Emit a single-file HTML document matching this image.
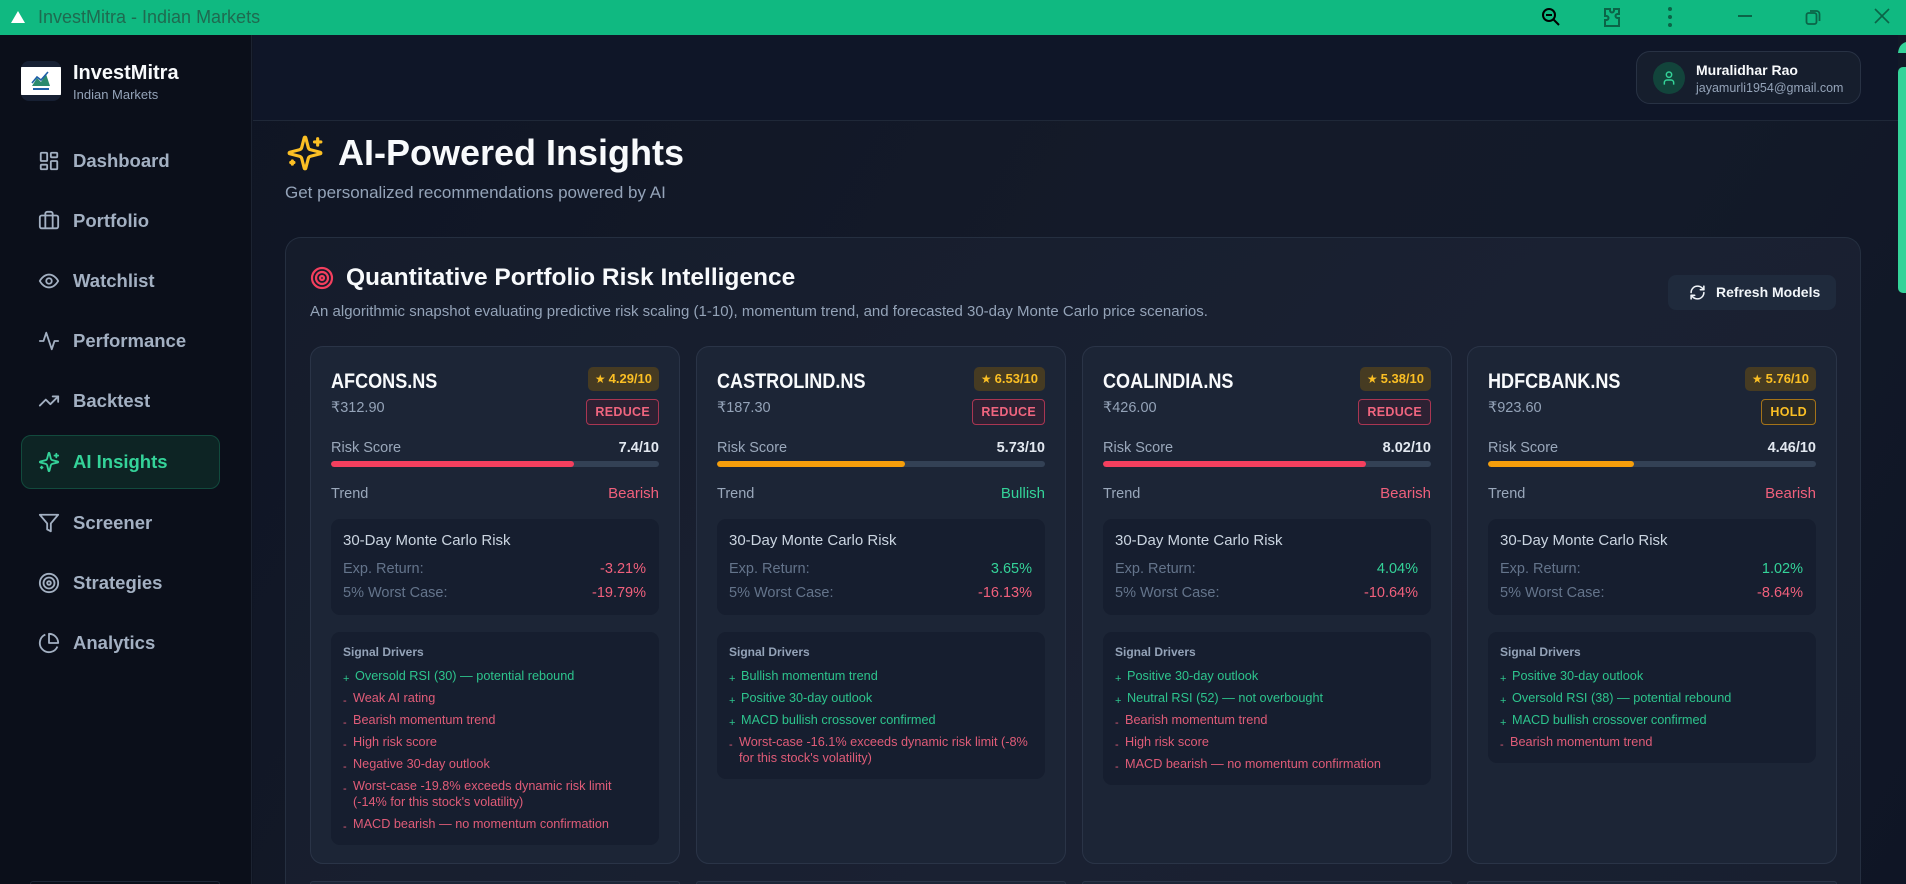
<!DOCTYPE html>
<html><head><meta charset="utf-8">
<style>
*{box-sizing:border-box;margin:0;padding:0}
html,body{width:1906px;height:884px;overflow:hidden;background:#0f1523;font-family:"Liberation Sans",Arial,sans-serif}
#root{position:relative;width:1906px;height:884px;overflow:hidden}
.a{position:absolute}
#tb{left:0;top:0;width:1906px;height:35px;background:#10b981}
#tbt{left:38px;top:6px;font-size:18px;line-height:22px;color:#1f6a50;white-space:nowrap}
#side{left:0;top:35px;width:252px;height:849px;background:#0b0f1a;border-right:1px solid #1c2331}
#main{left:253px;top:35px;width:1653px;height:849px;background:linear-gradient(120deg,#0f1524 0%,#141a29 45%,#131a29 70%,#0f1525 100%)}
#hdr{left:253px;top:35px;width:1645px;height:86px;background:#0f1628;border-bottom:1px solid #1f2838}
.nav{position:absolute;left:21px;width:199px;height:54px}
.nav svg{position:absolute;left:17px;top:16px}
.nav span{position:absolute;left:52px;top:17px;font-size:18.5px;line-height:20px;font-weight:bold;color:#a3b0c2;white-space:nowrap}
.nav.on{background:#0d2424;border:1px solid #124a3d;border-radius:10px}
.nav.on span{color:#34d399;left:51px;top:16px}
.nav.on svg{left:16px;top:15px}
#panel{left:285px;top:237px;width:1576px;height:647px;background:linear-gradient(135deg,#151c2b,#1a2132 60%,#181f2f);border:1px solid #252f40;border-bottom:none;border-radius:16px 16px 0 0}
.card{position:absolute;top:346px;width:370px;height:518px;background:#1c2536;border:1px solid #2a3447;border-radius:13px}
.card2{position:absolute;top:881px;width:370px;height:3px;background:#1c2536;border:1px solid #2a3447;border-bottom:none;border-radius:13px 13px 0 0}
.tk{position:absolute;left:20px;top:22px;font-size:21px;font-weight:bold;color:#f8fafc;line-height:26px;transform:scaleX(.86);transform-origin:0 50%;white-space:nowrap}
.star{position:absolute;right:20px;top:20px;height:24px;line-height:24px;padding:0 7px;border-radius:5px;background:#463b22;color:#fbbf24;font-size:13px;font-weight:bold;white-space:nowrap}
.star b{font-size:12px;font-family:"DejaVu Sans",sans-serif;margin-right:3px}
.bdg{position:absolute;right:20px;top:52px;height:26px;line-height:24px;padding:0 8px;border-radius:4px;font-size:12.5px;font-weight:bold;letter-spacing:.3px;border:1px solid}
.bdg.red{color:#f0657f;border-color:#a93652;background:#2d2133}
.bdg.hold{color:#fbbf24;border-color:#a47319;background:#2b2a25}
.price{position:absolute;left:20px;top:51px;font-size:14.5px;line-height:20px;color:#94a3b8;white-space:nowrap}
.row{position:absolute;left:20px;right:20px;height:18px;line-height:18px;display:flex;justify-content:space-between;font-size:14.5px}
.lbl{color:#9aa8bb}
.val{color:#e2e8f0;font-weight:bold}
.bar{position:absolute;left:20px;right:20px;top:114px;height:6px;border-radius:3px;background:#334155;overflow:hidden}
.bar i{display:block;height:100%;border-radius:3px}
.tr{font-size:15px}
.r{color:#f0607c}.g{color:#34d399}
.mc{position:absolute;left:20px;right:20px;top:172px;height:96px;background:#161e2f;border-radius:9px}
.mct{position:absolute;left:12px;top:13px;font-size:15px;line-height:18px;color:#cbd5e1;white-space:nowrap}
.mcr{position:absolute;left:12px;right:13px;display:flex;justify-content:space-between;font-size:14.5px;line-height:18px;color:#64748b}
.sig{position:absolute;left:20px;right:20px;top:285px;background:#161e2f;border-radius:9px;padding:12px 12px 13px}
.sgt{font-size:12px;font-weight:bold;color:#94a3b8;line-height:16px}
.it{display:flex;font-size:12.7px;line-height:16px;margin-top:6px;white-space:nowrap}
.sgt+.it{margin-top:8px}
.mk{flex:none;width:12px;font-size:11px;position:relative;top:3px}
.it.m .mk{width:10px}
.it.p{color:#2dc48d}.it.m{color:#e05c78}
</style></head><body><div id="root">

<!-- title bar -->
<div id="tb" class="a"></div>
<svg class="a" style="left:10px;top:10px" width="16" height="14" viewBox="0 0 16 14"><polygon points="8,1 15,13 1,13" fill="#fff"/></svg>
<div id="tbt" class="a">InvestMitra - Indian Markets</div>
<svg class="a" style="left:1540px;top:6px" width="22" height="22" viewBox="0 0 22 22" fill="none" stroke="#000" stroke-width="2"><circle cx="9" cy="9" r="6"/><line x1="6" y1="9" x2="12" y2="9"/><line x1="13.5" y1="13.5" x2="19" y2="19"/></svg>
<svg class="a" style="left:1600px;top:5px" width="24" height="24" viewBox="0 0 24 24" fill="none" stroke="#0b6447" stroke-width="2"><path d="M5 4h5v1.5a2 2 0 0 0 4 0V4h5v5h-1.5a2 2 0 0 0 0 4H19v8H5v-6h1.5a2 2 0 0 0 0-4H5z"/></svg>
<svg class="a" style="left:1665px;top:6px" width="10" height="22" viewBox="0 0 10 22" fill="#0b6447"><circle cx="5" cy="3" r="2"/><circle cx="5" cy="11" r="2"/><circle cx="5" cy="19" r="2"/></svg>
<div class="a" style="left:1738px;top:15px;width:14px;height:2px;background:#0b6447"></div>
<svg class="a" style="left:1805px;top:8px" width="16" height="18" viewBox="0 0 16 18" fill="none" stroke="#0b6447" stroke-width="1.8"><rect x="1.5" y="5" width="10" height="11" rx="2"/><path d="M5 3h6.5a3 3 0 0 1 3 3v7"/></svg>
<svg class="a" style="left:1874px;top:8px" width="16" height="16" viewBox="0 0 16 16" stroke="#0b6447" stroke-width="1.6"><line x1="1" y1="1" x2="15" y2="15"/><line x1="15" y1="1" x2="1" y2="15"/></svg>

<!-- sidebar -->
<div id="side" class="a"></div>
<div class="a" style="left:21px;top:61px;width:40px;height:40px;border-radius:8px;background:#172033;overflow:hidden">
 <div class="a" style="left:0;top:6px;width:40px;height:28px;background:#fff"></div>
 <svg class="a" style="left:8px;top:9px" width="24" height="22" viewBox="0 0 24 22"><polygon points="3,16 8,8 12,12 17,4 21,16" fill="#2b8a6e"/><polyline points="3,13 8,7 12,10 19,2" fill="none" stroke="#1e5fa8" stroke-width="1.6"/><rect x="4" y="18" width="16" height="2" fill="#1e5fa8"/></svg>
</div>
<div class="a" style="left:73px;top:62px;font-size:20px;line-height:22px;font-weight:bold;color:#f8fafc">InvestMitra</div>
<div class="a" style="left:73px;top:87px;font-size:13px;line-height:16px;color:#94a3b8">Indian Markets</div>

<div class="nav" style="top:134px"><svg width="22" height="22" viewBox="0 0 24 24" fill="none" stroke="#a3b0c2" stroke-width="2" stroke-linejoin="round"><rect x="3" y="3" width="7" height="9" rx="1"/><rect x="14" y="3" width="7" height="5" rx="1"/><rect x="14" y="12" width="7" height="9" rx="1"/><rect x="3" y="16" width="7" height="5" rx="1"/></svg><span>Dashboard</span></div>
<div class="nav" style="top:194px"><svg width="22" height="22" viewBox="0 0 24 24" fill="none" stroke="#a3b0c2" stroke-width="2" stroke-linejoin="round"><path d="M16 20V4a2 2 0 0 0-2-2h-4a2 2 0 0 0-2 2v16"/><rect x="2" y="6" width="20" height="14" rx="2"/></svg><span>Portfolio</span></div>
<div class="nav" style="top:254px"><svg width="22" height="22" viewBox="0 0 24 24" fill="none" stroke="#a3b0c2" stroke-width="2"><path d="M2 12s3.6-7 10-7 10 7 10 7-3.6 7-10 7S2 12 2 12z"/><circle cx="12" cy="12" r="3"/></svg><span>Watchlist</span></div>
<div class="nav" style="top:314px"><svg width="22" height="22" viewBox="0 0 24 24" fill="none" stroke="#a3b0c2" stroke-width="2" stroke-linejoin="round" stroke-linecap="round"><polyline points="22 12 18 12 15 21 9 3 6 12 2 12"/></svg><span>Performance</span></div>
<div class="nav" style="top:374px"><svg width="22" height="22" viewBox="0 0 24 24" fill="none" stroke="#a3b0c2" stroke-width="2" stroke-linejoin="round" stroke-linecap="round"><polyline points="22 7 13.5 15.5 8.5 10.5 2 17"/><polyline points="16 7 22 7 22 13"/></svg><span>Backtest</span></div>
<div class="nav on" style="top:435px"><svg width="22" height="22" viewBox="0 0 24 24" fill="none" stroke="#34d399" stroke-width="2" stroke-linejoin="round" stroke-linecap="round"><path d="M9.937 15.5A2 2 0 0 0 8.5 14.063l-6.135-1.582a.5.5 0 0 1 0-.962L8.5 9.936A2 2 0 0 0 9.937 8.5l1.582-6.135a.5.5 0 0 1 .963 0L14.063 8.5A2 2 0 0 0 15.5 9.937l6.135 1.581a.5.5 0 0 1 0 .964L15.5 14.063a2 2 0 0 0-1.437 1.437l-1.582 6.135a.5.5 0 0 1-.963 0z"/><path d="M20 3v4M22 5h-4M4 17v2M5 18H3"/></svg><span>AI Insights</span></div>
<div class="nav" style="top:496px"><svg width="22" height="22" viewBox="0 0 24 24" fill="none" stroke="#a3b0c2" stroke-width="2" stroke-linejoin="round"><polygon points="22 3 2 3 10 12.46 10 19 14 21 14 12.46 22 3"/></svg><span>Screener</span></div>
<div class="nav" style="top:556px"><svg width="22" height="22" viewBox="0 0 24 24" fill="none" stroke="#a3b0c2" stroke-width="2"><circle cx="12" cy="12" r="10"/><circle cx="12" cy="12" r="6"/><circle cx="12" cy="12" r="2"/></svg><span>Strategies</span></div>
<div class="nav" style="top:616px"><svg width="22" height="22" viewBox="0 0 24 24" fill="none" stroke="#a3b0c2" stroke-width="2" stroke-linejoin="round"><path d="M21.21 15.89A10 10 0 1 1 8 2.83"/><path d="M22 12A10 10 0 0 0 12 2v10z"/></svg><span>Analytics</span></div>
<div class="a" style="left:30px;top:881px;width:190px;height:3px;border:1px solid #1e2636;border-bottom:none;border-radius:8px 8px 0 0"></div>

<!-- main -->
<div id="main" class="a"></div>
<div id="hdr" class="a"></div>
<div class="a" style="left:1636px;top:51px;width:225px;height:53px;border-radius:14px;background:#161e2d;border:1px solid #283244"></div>
<div class="a" style="left:1653px;top:62px;width:32px;height:32px;border-radius:16px;background:#12443b"></div>
<svg class="a" style="left:1661px;top:70px" width="16" height="16" viewBox="0 0 24 24" fill="none" stroke="#34d399" stroke-width="2.2"><circle cx="12" cy="7" r="4"/><path d="M19 22v-3a4 4 0 0 0-4-4H9a4 4 0 0 0-4 4v3"/></svg>
<div class="a" style="left:1696px;top:61px;font-size:14px;line-height:18px;font-weight:bold;color:#f8fafc;white-space:nowrap">Muralidhar Rao</div>
<div class="a" style="left:1696px;top:80px;font-size:12.5px;line-height:16px;color:#94a3b8;white-space:nowrap">jayamurli1954@gmail.com</div>

<!-- scrollbar -->
<svg class="a" style="left:1897px;top:41px" width="9" height="12" viewBox="0 0 9 12"><path d="M1 12 Q2 3 9 1 V12z" fill="#34d399"/></svg>
<div class="a" style="left:1898px;top:67px;width:8px;height:226px;border-radius:5px 0 0 5px;background:#34d399"></div>

<svg class="a" style="left:286px;top:134px" width="38" height="38" viewBox="0 0 24 24" fill="none" stroke="#fbbf24" stroke-width="2" stroke-linejoin="round" stroke-linecap="round"><path d="M9.937 15.5A2 2 0 0 0 8.5 14.063l-6.135-1.582a.5.5 0 0 1 0-.962L8.5 9.936A2 2 0 0 0 9.937 8.5l1.582-6.135a.5.5 0 0 1 .963 0L14.063 8.5A2 2 0 0 0 15.5 9.937l6.135 1.581a.5.5 0 0 1 0 .964L15.5 14.063a2 2 0 0 0-1.437 1.437l-1.582 6.135a.5.5 0 0 1-.963 0z"/><path d="M20 3v4M22 5h-4M4 17v2M5 18H3"/></svg>
<div class="a" style="left:338px;top:132px;font-size:36px;line-height:42px;font-weight:bold;color:#f8fafc;white-space:nowrap">AI-Powered Insights</div>
<div class="a" style="left:285px;top:183px;font-size:17px;line-height:20px;color:#94a3b8;white-space:nowrap">Get personalized recommendations powered by AI</div>

<div id="panel" class="a"></div>
<svg class="a" style="left:310px;top:266px" width="24" height="24" viewBox="0 0 24 24" fill="none" stroke="#f43f5e" stroke-width="2.2"><circle cx="12" cy="12" r="10"/><circle cx="12" cy="12" r="6"/><circle cx="12" cy="12" r="2"/></svg>
<div class="a" style="left:346px;top:264px;font-size:24.5px;line-height:28px;font-weight:bold;color:#f8fafc;white-space:nowrap">Quantitative Portfolio Risk Intelligence</div>
<div class="a" style="left:310px;top:303px;font-size:15px;line-height:18px;color:#94a3b8;white-space:nowrap">An algorithmic snapshot evaluating predictive risk scaling (1-10), momentum trend, and forecasted 30-day Monte Carlo price scenarios.</div>
<div class="a" style="left:1668px;top:275px;width:168px;height:35px;border-radius:8px;background:#1f2a3c"></div>
<svg class="a" style="left:1689px;top:284px" width="17" height="17" viewBox="0 0 24 24" fill="none" stroke="#f1f5f9" stroke-width="2.2" stroke-linecap="round" stroke-linejoin="round"><path d="M3 12a9 9 0 0 1 9-9 9.75 9.75 0 0 1 6.74 2.74L21 8"/><path d="M21 3v5h-5"/><path d="M21 12a9 9 0 0 1-9 9 9.75 9.75 0 0 1-6.74-2.74L3 16"/><path d="M8 16H3v5"/></svg>
<div class="a" style="left:1716px;top:283px;font-size:14px;line-height:18px;font-weight:bold;color:#f1f5f9;white-space:nowrap">Refresh Models</div>

<!-- card 1 -->
<div class="card" style="left:310px">
 <div class="tk">AFCONS.NS</div>
 <div class="star"><b>★</b>4.29/10</div>
 <div class="bdg red">REDUCE</div>
 <div class="price">₹312.90</div>
 <div class="row" style="top:92px"><span class="lbl">Risk Score</span><span class="val">7.4/10</span></div>
 <div class="bar"><i style="width:74%;background:#f43f5e"></i></div>
 <div class="row" style="top:138px"><span class="lbl">Trend</span><span class="tr r">Bearish</span></div>
 <div class="mc"><div class="mct">30-Day Monte Carlo Risk</div>
  <div class="mcr" style="top:41px"><span>Exp. Return:</span><span class="r">-3.21%</span></div>
  <div class="mcr" style="top:65px"><span>5% Worst Case:</span><span class="r">-19.79%</span></div></div>
 <div class="sig"><div class="sgt">Signal Drivers</div>
  <div class="it p"><span class="mk">+</span><span>Oversold RSI (30) — potential rebound</span></div>
  <div class="it m"><span class="mk">-</span><span>Weak AI rating</span></div>
  <div class="it m"><span class="mk">-</span><span>Bearish momentum trend</span></div>
  <div class="it m"><span class="mk">-</span><span>High risk score</span></div>
  <div class="it m"><span class="mk">-</span><span>Negative 30-day outlook</span></div>
  <div class="it m"><span class="mk">-</span><span>Worst-case -19.8% exceeds dynamic risk limit<br>(-14% for this stock's volatility)</span></div>
  <div class="it m"><span class="mk">-</span><span>MACD bearish — no momentum confirmation</span></div>
 </div>
</div>

<!-- card 2 -->
<div class="card" style="left:696px">
 <div class="tk">CASTROLIND.NS</div>
 <div class="star"><b>★</b>6.53/10</div>
 <div class="bdg red">REDUCE</div>
 <div class="price">₹187.30</div>
 <div class="row" style="top:92px"><span class="lbl">Risk Score</span><span class="val">5.73/10</span></div>
 <div class="bar"><i style="width:57.3%;background:#f59e0b"></i></div>
 <div class="row" style="top:138px"><span class="lbl">Trend</span><span class="tr g">Bullish</span></div>
 <div class="mc"><div class="mct">30-Day Monte Carlo Risk</div>
  <div class="mcr" style="top:41px"><span>Exp. Return:</span><span class="g">3.65%</span></div>
  <div class="mcr" style="top:65px"><span>5% Worst Case:</span><span class="r">-16.13%</span></div></div>
 <div class="sig"><div class="sgt">Signal Drivers</div>
  <div class="it p"><span class="mk">+</span><span>Bullish momentum trend</span></div>
  <div class="it p"><span class="mk">+</span><span>Positive 30-day outlook</span></div>
  <div class="it p"><span class="mk">+</span><span>MACD bullish crossover confirmed</span></div>
  <div class="it m"><span class="mk">-</span><span>Worst-case -16.1% exceeds dynamic risk limit (-8%<br>for this stock's volatility)</span></div>
 </div>
</div>

<!-- card 3 -->
<div class="card" style="left:1082px">
 <div class="tk">COALINDIA.NS</div>
 <div class="star"><b>★</b>5.38/10</div>
 <div class="bdg red">REDUCE</div>
 <div class="price">₹426.00</div>
 <div class="row" style="top:92px"><span class="lbl">Risk Score</span><span class="val">8.02/10</span></div>
 <div class="bar"><i style="width:80.2%;background:#f43f5e"></i></div>
 <div class="row" style="top:138px"><span class="lbl">Trend</span><span class="tr r">Bearish</span></div>
 <div class="mc"><div class="mct">30-Day Monte Carlo Risk</div>
  <div class="mcr" style="top:41px"><span>Exp. Return:</span><span class="g">4.04%</span></div>
  <div class="mcr" style="top:65px"><span>5% Worst Case:</span><span class="r">-10.64%</span></div></div>
 <div class="sig"><div class="sgt">Signal Drivers</div>
  <div class="it p"><span class="mk">+</span><span>Positive 30-day outlook</span></div>
  <div class="it p"><span class="mk">+</span><span>Neutral RSI (52) — not overbought</span></div>
  <div class="it m"><span class="mk">-</span><span>Bearish momentum trend</span></div>
  <div class="it m"><span class="mk">-</span><span>High risk score</span></div>
  <div class="it m"><span class="mk">-</span><span>MACD bearish — no momentum confirmation</span></div>
 </div>
</div>

<!-- card 4 -->
<div class="card" style="left:1467px">
 <div class="tk">HDFCBANK.NS</div>
 <div class="star"><b>★</b>5.76/10</div>
 <div class="bdg hold">HOLD</div>
 <div class="price">₹923.60</div>
 <div class="row" style="top:92px"><span class="lbl">Risk Score</span><span class="val">4.46/10</span></div>
 <div class="bar"><i style="width:44.6%;background:#f59e0b"></i></div>
 <div class="row" style="top:138px"><span class="lbl">Trend</span><span class="tr r">Bearish</span></div>
 <div class="mc"><div class="mct">30-Day Monte Carlo Risk</div>
  <div class="mcr" style="top:41px"><span>Exp. Return:</span><span class="g">1.02%</span></div>
  <div class="mcr" style="top:65px"><span>5% Worst Case:</span><span class="r">-8.64%</span></div></div>
 <div class="sig"><div class="sgt">Signal Drivers</div>
  <div class="it p"><span class="mk">+</span><span>Positive 30-day outlook</span></div>
  <div class="it p"><span class="mk">+</span><span>Oversold RSI (38) — potential rebound</span></div>
  <div class="it p"><span class="mk">+</span><span>MACD bullish crossover confirmed</span></div>
  <div class="it m"><span class="mk">-</span><span>Bearish momentum trend</span></div>
 </div>
</div>

<div class="card2" style="left:310px"></div>
<div class="card2" style="left:696px"></div>
<div class="card2" style="left:1082px"></div>
<div class="card2" style="left:1467px"></div>

</div></body></html>
